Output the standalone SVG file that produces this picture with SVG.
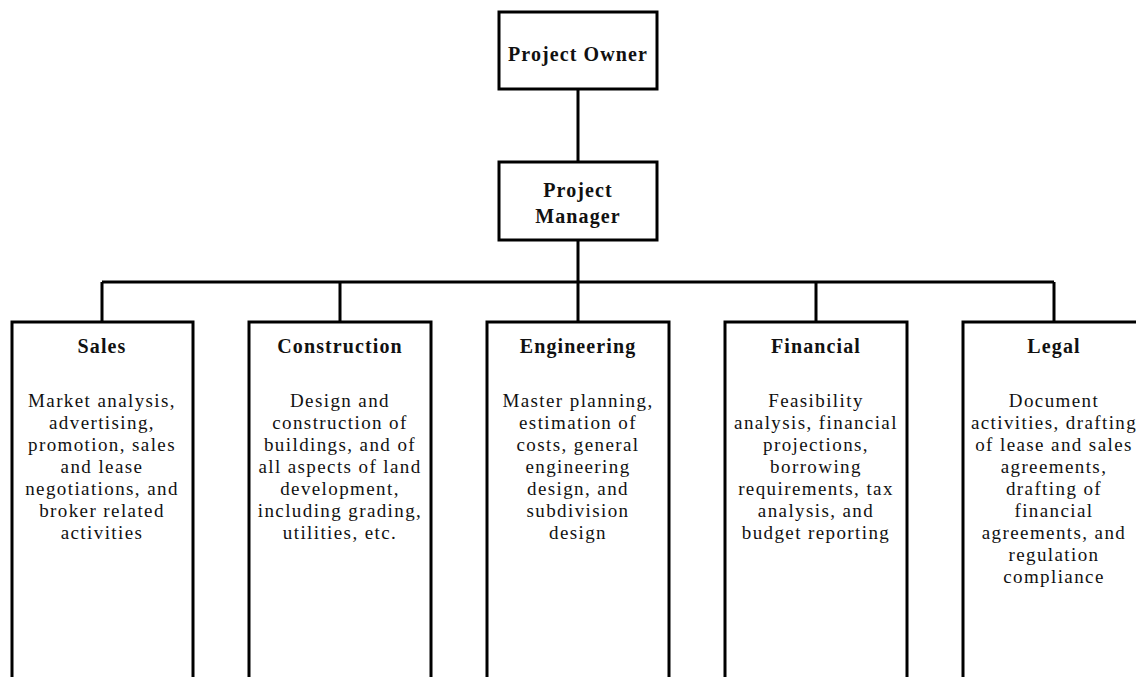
<svg xmlns="http://www.w3.org/2000/svg" width="1136" height="677" viewBox="0 0 1136 677">
<style>
.box{fill:#fff;stroke:#000;stroke-width:3}
.conn{fill:none;stroke:#000;stroke-width:3}
.t{font-family:"Liberation Serif","Times New Roman",serif;font-weight:bold;font-size:20px;letter-spacing:1.1px;fill:#111;text-anchor:middle}
.b{font-family:"Liberation Serif","Times New Roman",serif;font-size:19px;letter-spacing:1.4px;fill:#111;text-anchor:middle}
</style>
<rect width="1136" height="677" fill="#fff"/>
<g id="connectors">
<path class="conn" d="M578 89V162M578 240V282M102 282H1054M102 282V322M340 282V322M578 282V322M816 282V322M1054 282V322"/>
</g>
<g id="owner">
<rect class="box" x="499" y="12" width="158" height="77"/>
<text class="t" x="578" y="61">Project Owner</text>
</g>
<g id="manager">
<rect class="box" x="499" y="162" width="158" height="78"/>
<text class="t" x="578" y="197">Project</text>
<text class="t" x="578" y="223">Manager</text>
</g>
<g id="sales">
<rect class="box" x="12" y="322" width="181" height="380"/>
<text class="t" x="102" y="353">Sales</text>
<text class="b" x="102" y="407">Market analysis,</text>
<text class="b" x="102" y="429">advertising,</text>
<text class="b" x="102" y="451">promotion, sales</text>
<text class="b" x="102" y="473">and lease</text>
<text class="b" x="102" y="495">negotiations, and</text>
<text class="b" x="102" y="517">broker related</text>
<text class="b" x="102" y="539">activities</text>
</g>
<g id="construction">
<rect class="box" x="249" y="322" width="182" height="380"/>
<text class="t" x="340" y="353">Construction</text>
<text class="b" x="340" y="407">Design and</text>
<text class="b" x="340" y="429">construction of</text>
<text class="b" x="340" y="451">buildings, and of</text>
<text class="b" x="340" y="473">all aspects of land</text>
<text class="b" x="340" y="495">development,</text>
<text class="b" x="340" y="517">including grading,</text>
<text class="b" x="340" y="539">utilities, etc.</text>
</g>
<g id="engineering">
<rect class="box" x="487" y="322" width="182" height="380"/>
<text class="t" x="578" y="353">Engineering</text>
<text class="b" x="578" y="407">Master planning,</text>
<text class="b" x="578" y="429">estimation of</text>
<text class="b" x="578" y="451">costs, general</text>
<text class="b" x="578" y="473">engineering</text>
<text class="b" x="578" y="495">design, and</text>
<text class="b" x="578" y="517">subdivision</text>
<text class="b" x="578" y="539">design</text>
</g>
<g id="financial">
<rect class="box" x="725" y="322" width="182" height="380"/>
<text class="t" x="816" y="353">Financial</text>
<text class="b" x="816" y="407">Feasibility</text>
<text class="b" x="816" y="429">analysis, financial</text>
<text class="b" x="816" y="451">projections,</text>
<text class="b" x="816" y="473">borrowing</text>
<text class="b" x="816" y="495">requirements, tax</text>
<text class="b" x="816" y="517">analysis, and</text>
<text class="b" x="816" y="539">budget reporting</text>
</g>
<g id="legal">
<rect class="box" x="963" y="322" width="182" height="380"/>
<text class="t" x="1054" y="353">Legal</text>
<text class="b" x="1054" y="407">Document</text>
<text class="b" x="1054" y="429">activities, drafting</text>
<text class="b" x="1054" y="451">of lease and sales</text>
<text class="b" x="1054" y="473">agreements,</text>
<text class="b" x="1054" y="495">drafting of</text>
<text class="b" x="1054" y="517">financial</text>
<text class="b" x="1054" y="539">agreements, and</text>
<text class="b" x="1054" y="561">regulation</text>
<text class="b" x="1054" y="583">compliance</text>
</g>
</svg>
